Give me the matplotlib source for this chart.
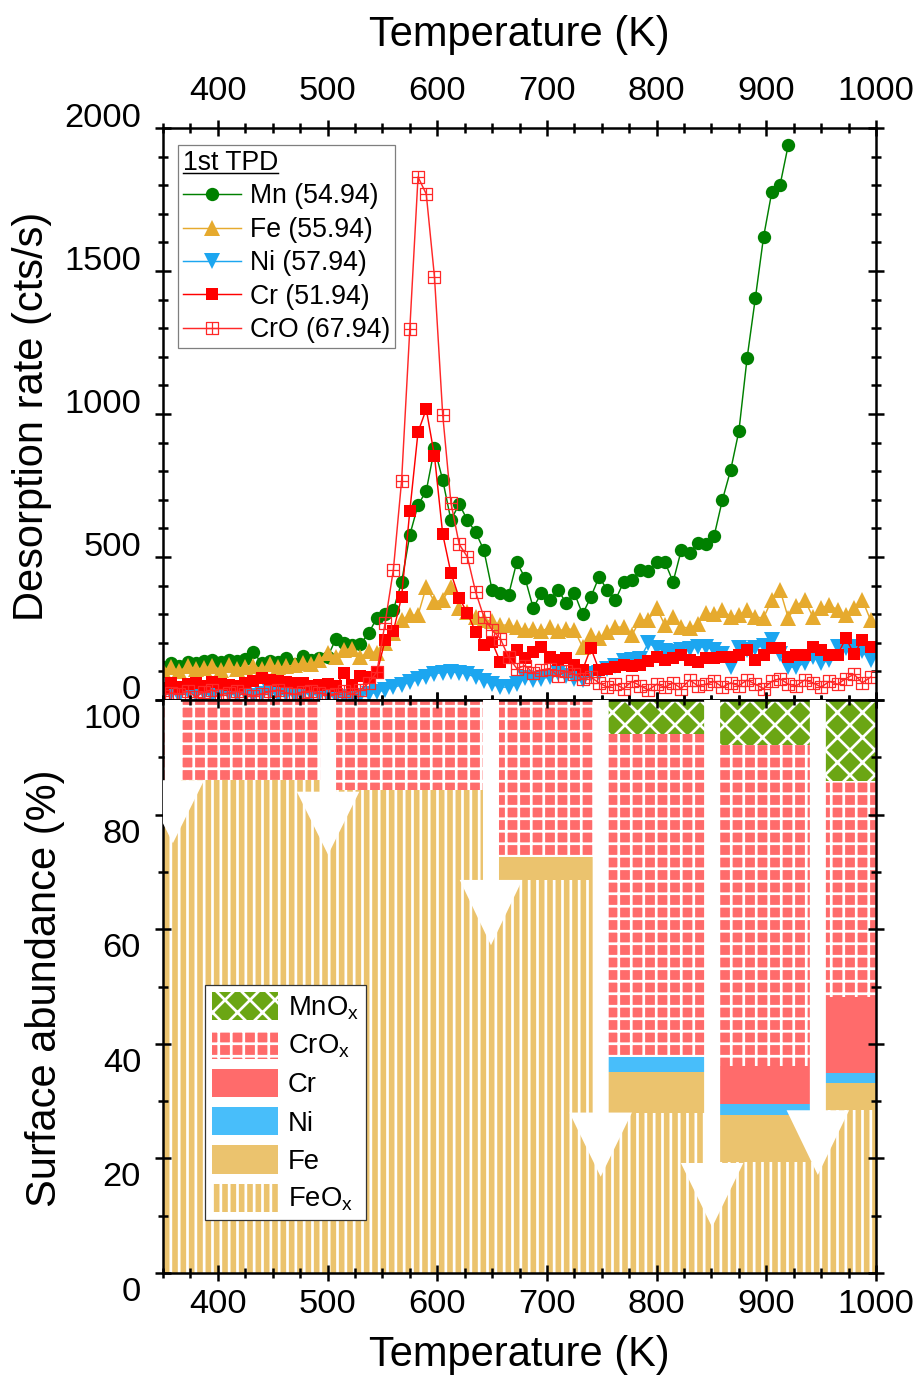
import numpy as np
import matplotlib
matplotlib.use('Agg')
import matplotlib.pyplot as plt
from matplotlib.path import Path
from matplotlib.patches import FancyArrow
from matplotlib.lines import Line2D
from matplotlib.ticker import MultipleLocator
from matplotlib.transforms import ScaledTranslation, IdentityTransform

plt.rcParams['font.family'] = ['Liberation Sans', 'DejaVu Sans']
plt.rcParams['hatch.linewidth'] = 1.3
plt.rcParams['axes.linewidth'] = 1.2

# ---------------- TPD data ----------------
temp = [350, 357.5, 365, 372.5, 380, 387.5, 395, 402.5, 410, 417.5,
        425, 432.5, 440, 447.5, 455, 462.5, 470, 477.5, 485, 492.5,
        500, 507.5, 515, 522.5, 530, 537.5, 545, 552.5, 560, 567.5,
        575, 582.5, 590, 597.5, 605, 612.5, 620, 627.5, 635, 642.5,
        650, 657.5, 665, 672.5, 680, 687.5, 695, 702.5, 710, 717.5,
        725, 732.5, 740, 747.5, 755, 762.5, 770, 777.5, 785, 792.5,
        800, 807.5, 815, 822.5, 830, 837.5, 845, 852.5, 860, 867.5,
        875, 882.5, 890, 897.5, 905, 912.5, 920, 927.5, 935, 942.5,
        950, 957.5, 965, 972.5, 980, 987.5, 995]

mn = [115, 130, 120, 133, 128, 135, 140, 132, 140, 138, 145, 168, 128, 135, 132, 148, 125, 155, 140, 148,
      150, 213, 200, 192, 195, 234, 287, 300, 315, 412,
      577, 682, 731, 881, 769, 629, 685, 629, 587, 524,
      385, 374, 367, 482, 427, 322, 374, 350, 385, 340,
      374, 300, 360, 430, 385, 350, 413, 420, 455, 450,
      483, 483, 413, 524, 514, 549, 545, 575, 700, 804,
      940, 1196, 1405, 1619, 1776, 1800, 1940]

fe = [105, 115, 100, 120, 108, 112, 118, 105, 122, 110, 115, 120, 108, 125, 115, 118, 122, 130, 125, 140,
      165, 150, 175, 180, 150, 170, 165, 200, 234, 280,
      297, 297, 395, 343, 350, 395, 322, 308, 290, 280,
      275, 262, 262, 255, 245, 250, 240, 255, 240, 250,
      245, 185, 227, 217, 238, 255, 255, 227, 280, 280,
      322, 262, 290, 255, 252, 265, 304, 300, 315, 290,
      297, 315, 290, 287, 350, 385, 287, 330, 350, 290,
      322, 332, 315, 297, 322, 350, 280]

ni = [20, 25, 15, 30, 20, 25, 15, 30, 22, 18, 25, 15, 20, 28, 18, 22, 15, 25, 20, 18,
      15, 12, 10, 5, 15, 20, 28, 35, 45, 52,
      62, 72, 80, 92, 96, 98, 96, 90, 80, 66,
      55, 45, 45, 55, 78, 70, 75, 80, 94, 85,
      75, 70, 90, 95, 110, 120, 135, 140, 145, 199,
      182, 170, 168, 175, 180, 185, 185, 175, 160, 115,
      182, 175, 182, 190, 210, 160, 115, 115, 130, 150,
      129, 140, 185, 182, 185, 170, 140]

cr = [42, 60, 45, 55, 59, 50, 63, 55, 52, 48, 58, 65, 77, 70, 65, 63, 58, 59, 50, 52,
      55, 48, 94, 52, 84, 80, 94, 210, 241, 360,
      661, 937, 1017, 853, 580, 444, 357, 304, 238, 192,
      203, 133, 147, 175, 147, 168, 185, 150, 140, 147,
      122, 105, 182, 105, 110, 115, 122, 120, 122, 135,
      150, 140, 147, 157, 140, 133, 147, 147, 150, 150,
      157, 175, 140, 157, 182, 182, 150, 157, 157, 185,
      175, 157, 157, 217, 160, 210, 185]

cro = [15, 25, 20, 30, 12, 28, 35, 18, 25, 30, 20, 15, 22, 30, 35, 25, 20, 28, 32, 25,
       18, 22, 30, 20, 35, 60, 98, 270, 455, 766,
       1297, 1829, 1769, 1479, 997, 689, 545, 500, 378, 290,
       245, 215, 150, 110, 120, 95, 105, 110, 85, 100,
       90, 75, 80, 60, 45, 55, 40, 65, 50, 35,
       55, 45, 60, 40, 70, 50, 55, 65, 45, 60,
       50, 70, 55, 40, 65, 75, 55, 50, 70, 60,
       45, 65, 55, 75, 90, 60, 80]

# ---------------- surface abundance (%) ----------------
bar_left = [350, 500.5, 649, 749, 850.6, 947]
bar_right = [500.5, 649, 749, 850.6, 947, 1000]
feox = [86.0, 84.3, 68.6, 27.9, 19.4, 28.4]
fe_s = [0, 0, 4.0, 7.2, 8.2, 4.8]
ni_s = [0, 0, 0, 2.6, 1.9, 1.7]
cr_s = [0, 0, 0, 0, 6.6, 13.3]
crox = [14.0, 15.7, 27.4, 56.4, 56.0, 37.7]
mnox = [0, 0, 0, 5.9, 7.9, 14.1]

arrow_x = [359, 500.5, 649, 749, 850.6, 947]
arrow_head_top = [86.0, 84.0, 68.6, 28.0, 19.2, 28.4]
arrow_tip = [75.0, 73.0, 57.2, 16.8, 8.0, 17.1]

fig = plt.figure(figsize=(919/150, 1378/150), dpi=150)
ax1 = fig.add_axes([163/919, 678/1378, 713/919, 572/1378])
ax2 = fig.add_axes([163/919, 105/1378, 713/919, 573/1378])

# square with cross marker for CrO
cro_marker = Path([(-1, -1), (1, -1), (1, 1), (-1, 1), (-1, -1), (0, -1), (0, 1), (-1, 0), (1, 0)],
                  [Path.MOVETO, Path.LINETO, Path.LINETO, Path.LINETO, Path.CLOSEPOLY,
                   Path.MOVETO, Path.LINETO, Path.MOVETO, Path.LINETO])

ax1.plot(temp[:len(mn)], mn, '-o', color='#008000', ms=6.4, mew=0, lw=0.7, label='Mn (54.94)')
ax1.plot(temp, fe, '-^', color='#E6AA2E', ms=7.6, mew=0, lw=0.7, label='Fe (55.94)')
ax1.plot(temp, ni, '-v', color='#1CA6F0', ms=7.6, mew=0, lw=0.7, label='Ni (57.94)')
ax1.plot(temp, cr, '-s', color='#FF0000', ms=5.8, mew=0, lw=0.7, label='Cr (51.94)')
ax1.plot(temp, cro, '-', marker=cro_marker, color='#FF2828', mfc='none', ms=5.8, mew=0.6, lw=0.7,
         label='CrO (67.94)')

ax1.set_xlim(350, 1000)
ax1.set_ylim(0, 2000)

leg1 = ax1.legend(loc='upper left', bbox_to_anchor=(0.021, 0.970), borderaxespad=0,
                  title='1st TPD', alignment='left', fontsize=12.8, title_fontsize=12.8,
                  fancybox=False, edgecolor='#7f7f7f', framealpha=1,
                  handlelength=2.2, handletextpad=0.33, labelspacing=0.28, borderpad=0.18)
leg1.get_frame().set_linewidth(0.6)

# stacked bars
width = [r - l for l, r in zip(bar_left, bar_right)]
bottom = np.zeros(len(bar_left))
layers = [(feox, '#EBC36E', '|||', 'FeO$_\\mathregular{x}$'),
          (fe_s, '#EBC36E', None, 'Fe'),
          (ni_s, '#48BEFA', None, 'Ni'),
          (cr_s, '#FF6B6B', None, 'Cr'),
          (crox, '#FF6B6B', '++', 'CrO$_\\mathregular{x}$'),
          (mnox, '#6BA614', 'xx', 'MnO$_\\mathregular{x}$')]
handles = []
for vals, col, hat, lab in layers:
    b = ax2.bar(bar_left, vals, width=width, bottom=bottom, align='edge', color=col,
                hatch=hat, edgecolor='white', linewidth=0, label=lab, zorder=1)
    handles.append(b)
    bottom = bottom + np.array(vals)

for x, top, tip in zip(arrow_x, arrow_head_top, arrow_tip):
    ax2.add_patch(FancyArrow(x, 103, 0, tip - 103, width=14.6, head_width=57,
                             head_length=top - tip, length_includes_head=True,
                             color='white', lw=0, zorder=3))

ax2.set_xlim(350, 1000)
ax2.set_ylim(0, 100)

leg2 = ax2.legend(handles[::-1], [h.get_label() for h in handles[::-1]],
                  loc='upper left', bbox_to_anchor=(0.059, 0.503), borderaxespad=0,
                  fontsize=13.2, handlelength=2.42, handleheight=1.2, handletextpad=0.35,
                  labelspacing=0.32, borderpad=0.25, fancybox=False, edgecolor='#333333',
                  framealpha=1)
leg2.get_frame().set_linewidth(0.6)

# ticks
for ax in (ax1, ax2):
    ax.xaxis.set_major_locator(MultipleLocator(100))
    ax.xaxis.set_minor_locator(MultipleLocator(25))
    ax.tick_params(which='both', direction='inout', top=True, right=True, width=1.2, labelsize=16.5)
    ax.tick_params(which='major', length=8)
    ax.tick_params(which='minor', length=4.8)
    ax.tick_params(axis='y', pad=6.5)
ax1.yaxis.set_major_locator(MultipleLocator(500))
ax1.yaxis.set_minor_locator(MultipleLocator(100))
ax2.yaxis.set_major_locator(MultipleLocator(20))
ax2.yaxis.set_minor_locator(MultipleLocator(10))
ax1.tick_params(axis='x', labeltop=True, labelbottom=False, pad=6)
ax2.tick_params(axis='x', pad=3.7)

for lab in ax1.get_yticklabels():
    lab.set_transform(lab.get_transform() + ScaledTranslation(0, 13/150, fig.dpi_scale_trans))
for lab in ax2.get_yticklabels():
    lab.set_transform(lab.get_transform() + ScaledTranslation(0, -16/150, fig.dpi_scale_trans))

fig.text(519.5/919, 1 - 35/1378, 'Temperature (K)', ha='center', va='center', fontsize=20)
fig.text(519.5/919, 1 - 1355/1378, 'Temperature (K)', ha='center', va='center', fontsize=20)
fig.text(32/919, 1 - 416/1378, 'Desorption rate (cts/s)', ha='center', va='center',
         rotation=90, fontsize=20)
fig.text(45/919, 1 - 988/1378, 'Surface abundance (%)', ha='center', va='center',
         rotation=90, fontsize=20)

# underline legend title
fig.canvas.draw()
bb = leg1.get_title().get_window_extent()
fig.add_artist(Line2D([bb.x0, bb.x1], [bb.y0 + 2.5, bb.y0 + 2.5], transform=IdentityTransform(),
                      color='black', lw=0.7))

fig.savefig('out.png', dpi=150)
